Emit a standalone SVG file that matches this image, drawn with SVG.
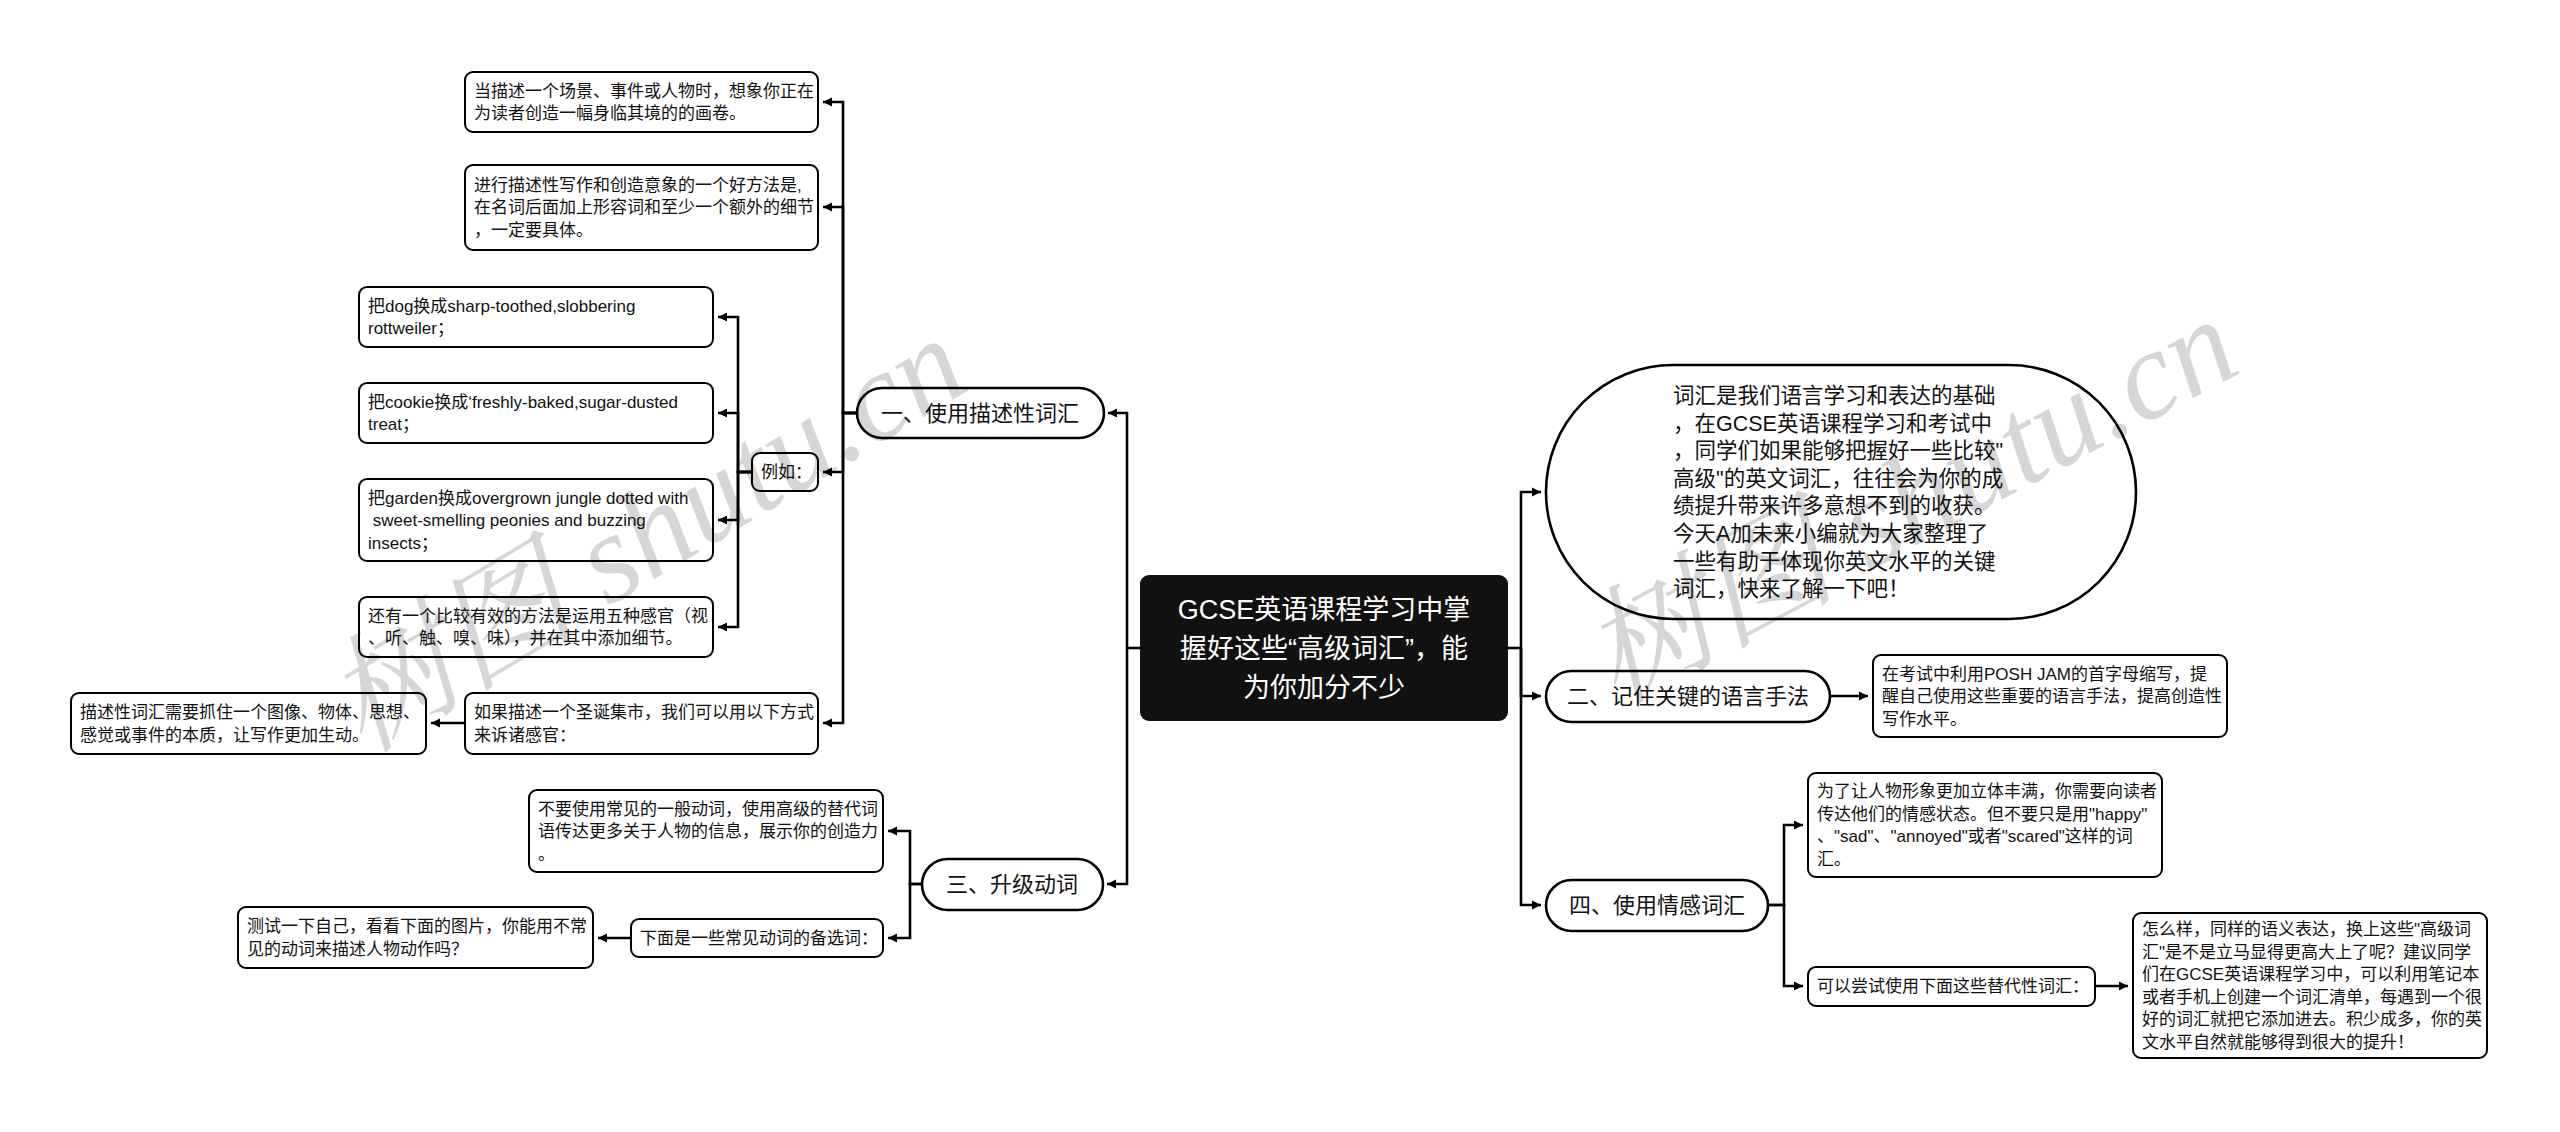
<svg xmlns="http://www.w3.org/2000/svg" width="2560" height="1132" viewBox="0 0 2560 1132">
<defs>
<marker id="ah" markerUnits="userSpaceOnUse" markerWidth="10" markerHeight="10" refX="9" refY="5" orient="auto">
<path d="M0,0.5 L9,5 L0,9.5 z" fill="#000"/>
</marker>
<style>
.leaf rect{fill:#fff;stroke:#000;stroke-width:2}
.pill rect{fill:#fff;stroke:#000;stroke-width:2.6}
text{font-family:"Liberation Sans","Noto Sans CJK SC",sans-serif;fill:#111}
.t{font-size:17px}
.p{font-size:22px;text-anchor:middle}
.b{font-size:21.5px}
.r{font-size:27px;text-anchor:middle;fill:#fff}
#connectors path{fill:none;stroke:#000;stroke-width:2.6;marker-end:url(#ah)}
#connectors path.n{marker-end:none}
.wm{font-family:"Liberation Serif","Noto Serif CJK SC","Noto Sans CJK SC",serif;font-style:italic;font-size:127px;fill:#000;fill-opacity:0.16}
</style>
</defs>
<rect width="2560" height="1132" fill="#fff"/>

<g id="connectors">
<path class="n" d="M1140 648 H1127"/>
<path d="M1127 648 V413 H1108"/>
<path d="M1127 648 V884 H1107"/>
<path d="M857 413 H843 V102 H823"/>
<path d="M857 413 H843 V207 H823"/>
<path d="M857 413 H843 V472 H823"/>
<path d="M857 413 H843 V723 H823"/>
<path d="M752 472 H738 V317 H718"/>
<path d="M752 472 H738 V413 H718"/>
<path d="M752 472 H738 V520 H718"/>
<path d="M752 472 H738 V627 H718"/>
<path d="M465 723 H431"/>
<path d="M922 884 H910 V831 H888"/>
<path d="M922 884 H910 V938 H888"/>
<path d="M631 938 H598"/>
<path class="n" d="M1508 648 H1521"/>
<path d="M1521 648 V492 H1541"/>
<path d="M1521 648 V696 H1541"/>
<path d="M1521 648 V905 H1541"/>
<path d="M1830 696 H1868"/>
<path d="M1768 905 H1784 V825 H1803"/>
<path d="M1768 905 H1784 V986 H1803"/>
<path d="M2095 986 H2128"/>
</g>

<g id="root">
<rect x="1140" y="575" width="368" height="146" rx="9" fill="#111"/>
<text class="r" x="1324" y="619">GCSE英语课程学习中掌</text>
<text class="r" x="1324" y="658">握好这些“高级词汇”，能</text>
<text class="r" x="1324" y="697">为你加分不少</text>
</g>

<g id="n1" class="pill">
<rect x="857" y="388" width="247" height="50" rx="25"/>
<text class="p" x="980" y="421">一、使用描述性词汇</text>
</g>
<g id="n3" class="pill">
<rect x="922" y="859" width="181" height="51" rx="25.5"/>
<text class="p" x="1012" y="892">三、升级动词</text>
</g>
<g id="nIntro" class="pill">
<rect x="1546" y="365" width="590" height="254" rx="127"/>
<text class="b" x="1673" y="403">词汇是我们语言学习和表达的基础</text>
<text class="b" x="1673" y="431">，在GCSE英语课程学习和考试中</text>
<text class="b" x="1673" y="458">，同学们如果能够把握好一些比较"</text>
<text class="b" x="1673" y="486">高级"的英文词汇，往往会为你的成</text>
<text class="b" x="1673" y="513">绩提升带来许多意想不到的收获。</text>
<text class="b" x="1673" y="541">今天A加未来小编就为大家整理了</text>
<text class="b" x="1673" y="569">一些有助于体现你英文水平的关键</text>
<text class="b" x="1673" y="596">词汇，快来了解一下吧！</text>
</g>
<g id="n2" class="pill">
<rect x="1546" y="671" width="284" height="51" rx="25.5"/>
<text class="p" x="1688" y="704">二、记住关键的语言手法</text>
</g>
<g id="n4" class="pill">
<rect x="1546" y="880" width="222" height="51" rx="25.5"/>
<text class="p" x="1657" y="913">四、使用情感词汇</text>
</g>

<g id="a1" class="leaf">
<rect x="465" y="72" width="353" height="60" rx="8"/>
<text class="t" x="474" y="97">当描述一个场景、事件或人物时，想象你正在</text>
<text class="t" x="474" y="119">为读者创造一幅身临其境的的画卷。</text>
</g>
<g id="a2" class="leaf">
<rect x="465" y="165" width="353" height="85" rx="8"/>
<text class="t" x="474" y="191">进行描述性写作和创造意象的一个好方法是,</text>
<text class="t" x="474" y="213">在名词后面加上形容词和至少一个额外的细节</text>
<text class="t" x="474" y="236">，一定要具体。</text>
</g>
<g id="a3" class="leaf">
<rect x="752" y="453" width="66" height="38" rx="8"/>
<text class="t" x="761" y="478">例如：</text>
</g>
<g id="a4" class="leaf">
<rect x="465" y="693" width="353" height="61" rx="8"/>
<text class="t" x="474" y="718">如果描述一个圣诞集市，我们可以用以下方式</text>
<text class="t" x="474" y="741">来诉诸感官：</text>
</g>
<g id="a4c" class="leaf">
<rect x="71" y="693" width="355" height="61" rx="8"/>
<text class="t" x="80" y="718">描述性词汇需要抓住一个图像、物体、思想、</text>
<text class="t" x="80" y="741">感觉或事件的本质，让写作更加生动。</text>
</g>
<g id="b1" class="leaf">
<rect x="359" y="287" width="354" height="60" rx="8"/>
<text class="t" x="368" y="312">把dog换成sharp-toothed,slobbering</text>
<text class="t" x="368" y="334">rottweiler；</text>
</g>
<g id="b2" class="leaf">
<rect x="359" y="383" width="354" height="60" rx="8"/>
<text class="t" x="368" y="408">把cookie换成‘freshly-baked,sugar-dusted</text>
<text class="t" x="368" y="430">treat；</text>
</g>
<g id="b3" class="leaf">
<rect x="359" y="479" width="354" height="82" rx="8"/>
<text class="t" x="368" y="504">把garden换成overgrown jungle dotted with</text>
<text class="t" x="368" y="526" xml:space="preserve"> sweet-smelling peonies and buzzing</text>
<text class="t" x="368" y="549">insects；</text>
</g>
<g id="b4" class="leaf">
<rect x="359" y="597" width="354" height="60" rx="8"/>
<text class="t" x="368" y="622">还有一个比较有效的方法是运用五种感官（视</text>
<text class="t" x="368" y="644">、听、触、嗅、味），并在其中添加细节。</text>
</g>
<g id="c1" class="leaf">
<rect x="529" y="790" width="354" height="82" rx="8"/>
<text class="t" x="538" y="815">不要使用常见的一般动词，使用高级的替代词</text>
<text class="t" x="538" y="837">语传达更多关于人物的信息，展示你的创造力</text>
<text class="t" x="538" y="860">。</text>
</g>
<g id="c2" class="leaf">
<rect x="631" y="919" width="252" height="38" rx="8"/>
<text class="t" x="640" y="944">下面是一些常见动词的备选词：</text>
</g>
<g id="c2c" class="leaf">
<rect x="238" y="907" width="355" height="61" rx="8"/>
<text class="t" x="247" y="932">测试一下自己，看看下面的图片，你能用不常</text>
<text class="t" x="247" y="955">见的动词来描述人物动作吗？</text>
</g>
<g id="d1" class="leaf">
<rect x="1873" y="655" width="354" height="82" rx="8"/>
<text class="t" x="1882" y="680">在考试中利用POSH JAM的首字母缩写，提</text>
<text class="t" x="1882" y="702">醒自己使用这些重要的语言手法，提高创造性</text>
<text class="t" x="1882" y="725">写作水平。</text>
</g>
<g id="e1" class="leaf">
<rect x="1808" y="773" width="354" height="104" rx="8"/>
<text class="t" x="1817" y="797">为了让人物形象更加立体丰满，你需要向读者</text>
<text class="t" x="1817" y="820">传达他们的情感状态。但不要只是用"happy"</text>
<text class="t" x="1817" y="842">、"sad"、"annoyed"或者"scared"这样的词</text>
<text class="t" x="1817" y="865">汇。</text>
</g>
<g id="e2" class="leaf">
<rect x="1808" y="967" width="287" height="39" rx="8"/>
<text class="t" x="1817" y="992">可以尝试使用下面这些替代性词汇：</text>
</g>
<g id="e2c" class="leaf">
<rect x="2133" y="913" width="354" height="145" rx="8"/>
<text class="t" x="2142" y="935">怎么样，同样的语义表达，换上这些"高级词</text>
<text class="t" x="2142" y="958">汇"是不是立马显得更高大上了呢？建议同学</text>
<text class="t" x="2142" y="980">们在GCSE英语课程学习中，可以利用笔记本</text>
<text class="t" x="2142" y="1003">或者手机上创建一个词汇清单，每遇到一个很</text>
<text class="t" x="2142" y="1025">好的词汇就把它添加进去。积少成多，你的英</text>
<text class="t" x="2142" y="1048">文水平自然就能够得到很大的提升！</text>
</g>

<g id="watermark">
<text class="wm" x="0" y="0" text-anchor="middle" dominant-baseline="central" transform="translate(646,534) rotate(-31)">树图 shutu.cn</text>
<text class="wm" x="0" y="0" text-anchor="middle" dominant-baseline="central" transform="translate(1910,500) rotate(-28)">树图 shutu.cn</text>
</g>
</svg>
